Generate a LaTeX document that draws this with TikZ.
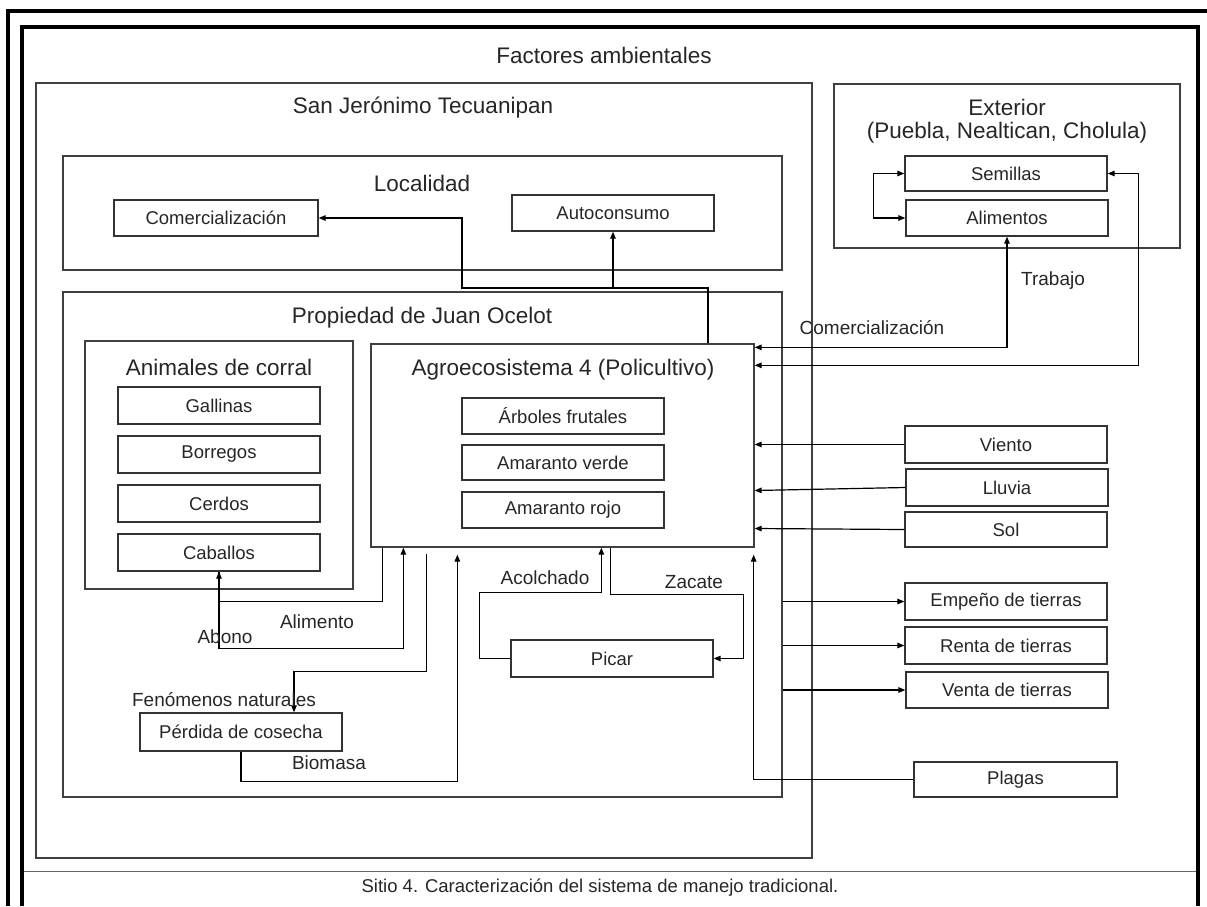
\documentclass[tikz,border=0pt]{standalone}
\usepackage{fontspec}
\setmainfont{Liberation Sans}
\usetikzlibrary{arrows.meta}
\begin{document}
\begin{tikzpicture}[x=1pt,y=-1pt,
  boxA/.style={draw=black!80, line width=1.3pt, minimum width=202pt, minimum height=36pt, inner sep=0pt, font=\fontsize{18.5}{22}\selectfont, text=black!85},
  cont/.style={draw=black!75, line width=1.3pt, inner sep=0pt},
  ttl/.style={font=\fontsize{22.5}{27}\selectfont, text=black!85, inner sep=0pt},
  lbl/.style={font=\fontsize{19}{23}\selectfont, text=black!85, inner sep=0pt},
  conn/.style={draw=black, line width=1.2pt, -{Triangle[length=7pt,width=5.5pt]}},
  conntwo/.style={draw=black, line width=1.2pt, {Triangle[length=7pt,width=5.5pt]}-{Triangle[length=7pt,width=5.5pt]}},
  framel/.style={line width=3.6pt, black}
]
\useasboundingbox (0,0) rectangle (1207,906);
% frames
\draw[framel] (7.7,906) -- (7.7,11) -- (1207,11);
\draw[framel] (22,906) -- (22,27) -- (1197.7,27) -- (1197.7,906);
\draw[black!60, line width=1.4pt] (24,871.5) -- (1196,871.5);
\node[font=\fontsize{18.5}{22}\selectfont, text=black!85, inner sep=0pt] (cap) at (600,888) {Sitio 4. Caracterización del sistema de manejo tradicional.};

% containers
\node[ttl] (tfa) at (604,55) {Factores ambientales};
\node[cont, minimum width=776pt, minimum height=775pt] (sj) at (424,470.5) {};
\node[ttl] (tsj) at (423,108) {San Jerónimo Tecuanipan};
\node[cont, minimum width=346pt, minimum height=164pt] (ext) at (1007,166) {};
\node[ttl] (text1) at (1007,107) {Exterior};
\node[ttl] (text2) at (1007,133) {(Puebla, Nealtican, Cholula)};
\node[cont, minimum width=719pt, minimum height=114pt] (loc) at (422.5,213) {};
\node[ttl] (tloc) at (422,183) {Localidad};
\node[cont, minimum width=719pt, minimum height=505pt] (prop) at (422.5,544.5) {};
\node[ttl] (tprop) at (422,318) {Propiedad de Juan Ocelot};
\node[cont, minimum width=268pt, minimum height=248pt] (anim) at (219,465) {};
\node[ttl] (tanim) at (219,367) {Animales de corral};
\node[cont, minimum width=383pt, minimum height=203pt] (agro) at (562.5,445.5) {};
\node[ttl] (tagro) at (563,370) {Agroecosistema 4 (Policultivo)};

% boxes
\node[boxA, minimum width=204pt] (com) at (216,218) {Comercialización};
\node[boxA] (auto) at (613,213) {Autoconsumo};
\node[boxA, minimum height=37pt] (gal) at (219,405.5) {Gallinas};
\node[boxA, minimum height=37pt] (bor) at (219,454.5) {Borregos};
\node[boxA, minimum height=37pt] (cer) at (219,503.5) {Cerdos};
\node[boxA, minimum height=37pt] (cab) at (219,552.5) {Caballos};
\node[boxA] (arb) at (563,416) {Árboles frutales};
\node[boxA, minimum height=35pt] (amv) at (563,462.5) {Amaranto verde};
\node[boxA] (amr) at (563,510) {Amaranto rojo};
\node[boxA, minimum height=37pt] (picar) at (612,658.5) {Picar};
\node[boxA, minimum height=38pt] (per) at (241,732) {Pérdida de cosecha};
\node[boxA, minimum height=35pt] (sem) at (1006,173.5) {Semillas};
\node[boxA] (alim) at (1007,218) {Alimentos};
\node[boxA, minimum height=37pt] (vie) at (1006,444.5) {Viento};
\node[boxA, minimum height=37pt] (llu) at (1007,487.5) {Lluvia};
\node[boxA, minimum height=35pt] (sol) at (1006,529.5) {Sol};
\node[boxA, minimum height=37pt] (emp) at (1006,601.5) {Empeño de tierras};
\node[boxA, minimum height=37pt] (ren) at (1006,645.5) {Renta de tierras};
\node[boxA] (ven) at (1007,690) {Venta de tierras};
\node[boxA, minimum width=203pt, minimum height=35pt] (pla) at (1015.5,779.5) {Plagas};

% connectors: Agro -> Localidad
\coordinate (j1) at (613,288);
\draw[conn] ([xshift=145.5pt]agro.north) |- (j1) -- (auto.south);
\draw[conn] (j1) -- (462,288) |- (com.east);

% Exterior
\draw[conntwo] (alim.south) |- ([yshift=-4pt]agro.north east);
\draw[conntwo] (sem.east) -- ++(31,0) |- ([yshift=-22pt]agro.north east);
\draw[conntwo] (sem.west) -- ++(-31,0) |- (alim.west);
\node[lbl] (ltra) at (1053,281) {Trabajo};
\node[lbl] (lcom) at (872,328) {Comercialización};

% environment
\draw[conn] (vie.west) -- (agro.east |- vie.west);
\draw[conn] (llu.west) -- ([yshift=-3pt]agro.east |- llu.west);
\draw[conn] (sol.west) -- ([yshift=1pt]agro.east |- sol.west);
\draw[conn] (prop.east |- emp.west) -- (emp.west);
\draw[conn] (prop.east |- ren.west) -- (ren.west);
\draw[conn] (prop.east |- ven.west) -- (ven.west);
\draw[conn] (pla.west) -| ([xshift=-1pt,yshift=-7pt]agro.south east);

% bottom of agro
\draw[conn] ([xshift=12pt]agro.south west) -- ++(0,54) -| (cab.south);
\draw[conn] (cab.south) -- ++(0,77) -| ([xshift=33pt]agro.south west);
\draw[conn] ([xshift=56pt,yshift=-6pt]agro.south west) -- ++(0,118) -| ([xshift=53pt]per.north);
\draw[conn] (per.south) -- ++(0,30) -| ([xshift=87pt,yshift=-7pt]agro.south west);
\draw[conn] (picar.west) -- ++(-31,0) -- ++(0,-66) -| ([xshift=231pt]agro.south west);
\draw[conn] ([xshift=240pt]agro.south west) -- ++(0,47) -| ([xshift=30pt]picar.east) -- (picar.east);

\node[lbl] (lali) at (317,622) {Alimento};
\node[lbl] (labo) at (225,637) {Abono};
\node[lbl] (lfen) at (224,700) {Fenómenos naturales};
\node[lbl] (lbio) at (329,763) {Biomasa};
\node[lbl] (lacol) at (545,578) {Acolchado};
\node[lbl] (lzac) at (694,582) {Zacate};
\end{tikzpicture}
\end{document}
